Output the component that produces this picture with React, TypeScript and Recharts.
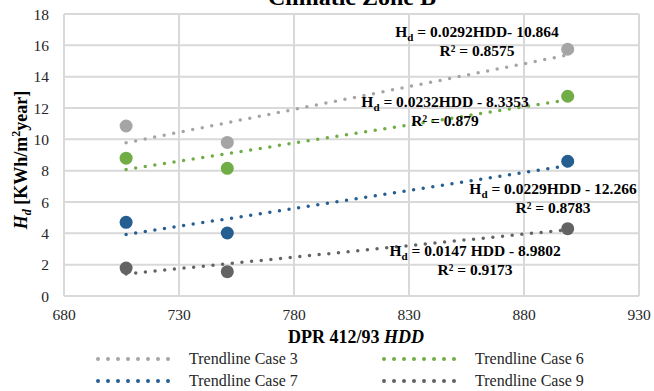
import React from "react";
import { ScatterChart, Scatter, XAxis, YAxis, CartesianGrid } from "recharts";

const hdd = [707, 751, 899];
const case3 = [10.85, 9.8, 15.75];
const case6 = [8.8, 8.15, 12.75];
const case7 = [4.7, 4.02, 8.6];
const case9 = [1.78, 1.55, 4.3];

// trendline end points
const trendX = [707, 899];
const trend3 = [9.78, 15.38];
const trend6 = [8.07, 12.52];
const trend7 = [3.92, 8.32];
const trend9 = [1.41, 4.23];

const xTicks = [680, 730, 780, 830, 880, 930];
const yTicks = [0, 2, 4, 6, 8, 10, 12, 14, 16, 18];

const series = [
  { name: "Case 3", color: "#a5a5a5", pts: case3, trend: trend3 },
  { name: "Case 6", color: "#70ad47", pts: case6, trend: trend6 },
  { name: "Case 7", color: "#255e91", pts: case7, trend: trend7 },
  { name: "Case 9", color: "#636363", pts: case9, trend: trend9 },
];

const labels = [
  { eq: "0.0292HDD- 10.864", r2: "R² = 0.8575", x: 477, y: 37 },
  { eq: "0.0232HDD - 8.3353", r2: "R² = 0.879", x: 445, y: 107 },
  { eq: "0.0229HDD - 12.266", r2: "R² = 0.8783", x: 553, y: 194 },
  { eq: "0.0147 HDD - 8.9802", r2: "R² = 0.9173", x: 475, y: 256 },
];

const serif = "Liberation Serif";
const textColor = "#262626";
const tickStyle = { fontSize: 15.5, fill: textColor, fontFamily: serif };

const toPts = (xs: number[], ys: number[]) => xs.map((x, i) => ({ x, y: ys[i] }));

const Dot = (props: any) => {
  const { cx, cy, fill } = props;
  if (cx == null || cy == null) return <g />;
  return <circle cx={cx} cy={cy} r={6.5} fill={fill} />;
};

const LegendItem = ({ color, label }: { color: string; label: string }) => (
  <div style={{ display: "flex", alignItems: "center", height: 22 }}>
    <svg width={93} height={10}>
      <line x1={2} y1={5} x2={82} y2={5} stroke={color} strokeWidth={4}
        strokeDasharray="0 10" strokeLinecap="round" />
    </svg>
    <span style={{ fontFamily: serif, fontSize: 16, color: textColor }}>{label}</span>
  </div>
);

export default function App() {
  return (
    <div style={{ position: "absolute", left: 0, top: 0, width: 654, height: 391, background: "#fff", fontFamily: serif }}>
      <ScatterChart width={654} height={391} margin={{ top: 14, right: 15, bottom: 55, left: 0 }}
        style={{ fontFamily: serif }}>
        <CartesianGrid stroke="#d9d9d9" strokeWidth={2} />
        <XAxis type="number" dataKey="x" domain={[680, 930]} ticks={xTicks} allowDataOverflow
          height={40} tickLine={false} tickSize={0} tickMargin={13}
          axisLine={{ stroke: "#d9d9d9", strokeWidth: 2 }} tick={tickStyle} />
        <YAxis type="number" dataKey="y" domain={[0, 18]} ticks={yTicks} width={64}
          tickLine={false} tickSize={0} tickMargin={15}
          axisLine={{ stroke: "#d9d9d9", strokeWidth: 2 }} tick={tickStyle} />
        {series.map((s) => (
          <Scatter key={s.name} data={toPts(hdd, s.pts)} fill={s.color}
            shape={<Dot />} isAnimationActive={false} />
        ))}
        {series.map((s) => (
          <Scatter key={"t" + s.name} data={toPts(trendX, s.trend)} fill={s.color}
            shape={() => <g />} isAnimationActive={false}
            line={{ stroke: s.color, strokeWidth: 3.5, strokeDasharray: "0 9.7", strokeLinecap: "round" }} />
        ))}
      </ScatterChart>

      <svg width={654} height={391} style={{ position: "absolute", left: 0, top: 0, pointerEvents: "none" }}
        fontFamily={serif}>
        <text x={352} y={4.5} textAnchor="middle" fontSize={24} fontWeight="bold" fill="#000">
          Climatic Zone B
        </text>
        <text transform="translate(27,160) rotate(-90)" textAnchor="middle" fontSize={18}
          fontWeight="bold" fill="#000">
          <tspan fontStyle="italic">H</tspan>
          <tspan fontStyle="italic" fontSize={12} dy={4}>d</tspan>
          <tspan dy={-4}> [KWh/m</tspan>
          <tspan fontSize={12} dy={-7}>2</tspan>
          <tspan dy={7}>year]</tspan>
        </text>
        <text x={356} y={343} textAnchor="middle" fontSize={18} fontWeight="bold" fill="#000">
          DPR 412/93 <tspan fontStyle="italic">HDD</tspan>
        </text>
        {labels.map((l) => (
          <g key={l.eq}>
            <text x={l.x} y={l.y} textAnchor="middle" fontSize={15.5} fontWeight="bold" fill="#000">
              H<tspan fontSize={11} dy={4}>d</tspan>
              <tspan dy={-4}>{" = " + l.eq}</tspan>
            </text>
            <text x={l.x} y={l.y + 19} textAnchor="middle" fontSize={15.5} fontWeight="bold" fill="#000">
              {l.r2}
            </text>
          </g>
        ))}
      </svg>

      <div style={{ position: "absolute", left: 96, top: 348 }}>
        <LegendItem color={series[0].color} label="Trendline Case 3" />
        <LegendItem color={series[2].color} label="Trendline Case 7" />
      </div>
      <div style={{ position: "absolute", left: 382, top: 348 }}>
        <LegendItem color={series[1].color} label="Trendline Case 6" />
        <LegendItem color={series[3].color} label="Trendline Case 9" />
      </div>
    </div>
  );
}
